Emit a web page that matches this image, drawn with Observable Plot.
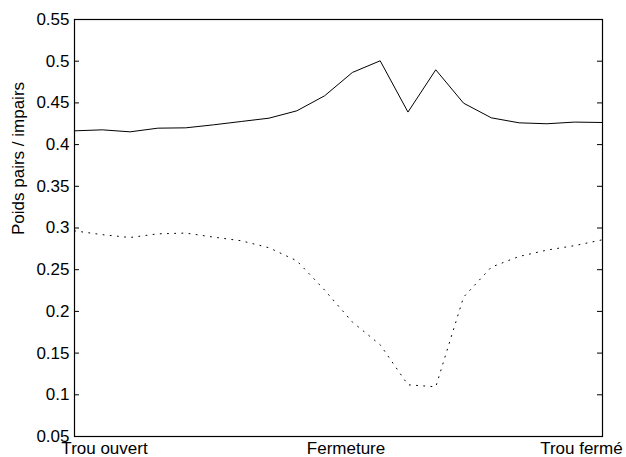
<!DOCTYPE html>
<html>
<head>
<meta charset="utf-8">
<script src="https://cdn.jsdelivr.net/npm/d3@7"></script>
<script src="https://cdn.jsdelivr.net/npm/@observablehq/plot@0.6"></script>
<style>
  html, body { margin: 0; padding: 0; background: #fff; }
  #chart svg { display: block; }
</style>
</head>
<body>
<div id="chart"></div>
<script>
// Sample index along the hole closure (1..20)
const positions = d3.range(1, 21);
// Solid line: even weights ("pairs")
const poidsPairs = [0.4165, 0.4177, 0.4153, 0.4197, 0.4201, 0.4237, 0.4277, 0.4317, 0.4405, 0.4585,
                    0.4865, 0.5005, 0.4390, 0.4897, 0.4497, 0.4321, 0.4261, 0.4250, 0.4270, 0.4265];
// Dotted line: odd weights ("impairs")
const poidsImpairs = [0.2966, 0.2920, 0.2886, 0.2930, 0.2939, 0.2891, 0.2847, 0.2763, 0.2607, 0.2256,
                      0.1872, 0.1600, 0.1120, 0.1096, 0.2171, 0.2531, 0.2659, 0.2735, 0.2789, 0.2859];
// Axis ticks
const yTicks = [0.05, 0.1, 0.15, 0.2, 0.25, 0.3, 0.35, 0.4, 0.45, 0.5, 0.55];
const yTickLabels = ["0.05", "0.1", "0.15", "0.2", "0.25", "0.3", "0.35", "0.4", "0.45", "0.5", "0.55"];
const xTickPos = [2.08, 10.77, 19.24];
const xTickLabels = ["Trou ouvert", "Fermeture", "Trou fermé"];
const yLabel = "Poids pairs / impairs";

const pairsData = positions.map((x, i) => ({x, y: poidsPairs[i]}));
const impairsData = positions.map((x, i) => ({x, y: poidsImpairs[i]}));
const xLabelMap = new Map(xTickPos.map((p, i) => [p, xTickLabels[i]]));
const yLabelMap = new Map(yTicks.map((p, i) => [p, yTickLabels[i]]));

const W = 626, H = 457;
const mL = 74, mR = 24, mT = 19, mB = 21;
const frameW = W - mL - mR;

const chart = Plot.plot({
  width: W,
  height: H,
  marginLeft: mL,
  marginRight: mR,
  marginTop: mT,
  marginBottom: mB,
  style: {fontFamily: "'Liberation Sans', Arial, Helvetica, sans-serif", fontSize: "17px", color: "black", background: "white"},
  x: {domain: [1, 20]},
  y: {domain: [0.05, 0.55]},
  marks: [
    Plot.frame({stroke: "black", strokeWidth: 1.2}),
    // inward y ticks on left and right sides
    Plot.tickY(yTicks, {y: d => d, stroke: "black", insetRight: frameW - 5}),
    Plot.tickY(yTicks, {y: d => d, stroke: "black", insetLeft: frameW - 5}),
    Plot.axisY(yTicks, {tickSize: 0, tickPadding: 5, tickFormat: d => yLabelMap.get(d), label: null, fontSize: 17}),
    Plot.axisX(xTickPos, {tickSize: 0, tickPadding: 5, tickFormat: d => xLabelMap.get(d), label: null, fontSize: 17}),
    Plot.text([yLabel], {frameAnchor: "left", text: d => d, rotate: -90, dx: -56, dy: 7, fontSize: 17, fill: "black"}),
    Plot.line(pairsData, {x: "x", y: "y", stroke: "black", strokeWidth: 1}),
    Plot.line(impairsData, {x: "x", y: "y", stroke: "black", strokeWidth: 1, strokeDasharray: "1,6.2"})
  ]
});
document.getElementById("chart").appendChild(chart);
</script>
</body>
</html>
